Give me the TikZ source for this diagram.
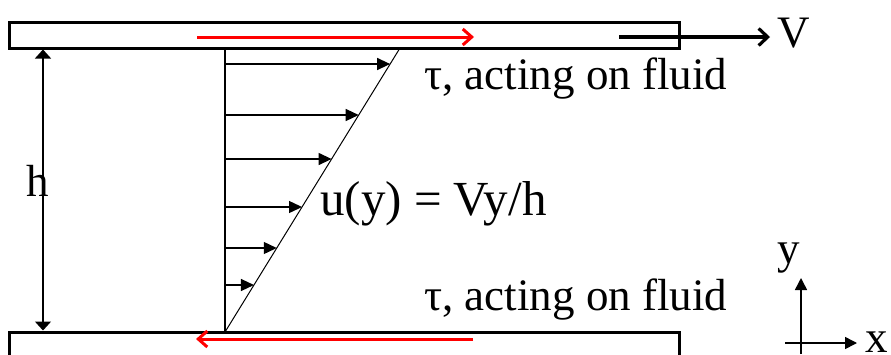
\documentclass[tikz,border=0pt]{standalone}
\usepackage{fontspec}
\setmainfont{Liberation Serif}
\usetikzlibrary{arrows.meta}
\tikzset{
  plate/.style={draw, line width=3pt},
  lbl/.style={font=\fontsize{45}{50}\selectfont, inner sep=0pt, anchor=base west},
  vel/.style={line width=1.3pt, -{Triangle[length=13pt,width=12pt]}},
  shear/.style={red, line width=3pt, -{Straight Barb[length=9pt,width=16pt]}},
  thinline/.style={line width=1.3pt},
  dimtip/.style={line width=1.3pt, {Triangle[length=9pt,width=16pt]}-{Triangle[length=9pt,width=16pt]}},
  axis/.style={line width=1.5pt, -{Triangle[length=12pt,width=12pt]}}
}
\begin{document}
\begin{tikzpicture}[x=1pt,y=-1pt]
\useasboundingbox (0,0) rectangle (891,354);
% top plate
\node[plate, minimum width=670pt, minimum height=26pt, inner sep=0pt] (top) at (344,35) {};
% bottom plate
\draw[plate] (9,360) -- (9,332) -- (679,332) -- (679,360);
\coordinate (bot) at (344,332);
% profile
\coordinate (b0) at (225,332);
\coordinate (b1) at (225,48);
\coordinate (s1) at (400,48);
\draw[thinline] (b0) -- (b1);
\draw[line width=1pt] (b0) -- (s1);
\foreach \yy in {64,115,159,207,248,285}{
  \draw[vel] (225,\yy) -- ({225+(332-\yy)/284*175},\yy);
}
% h dimension
\coordinate (h0) at (43,49.5);
\coordinate (h1) at (43,330.5);
\draw[dimtip] (h0) -- (h1);
\node[font=\fontsize{45}{50}\selectfont, inner sep=0pt] (hl) at (38,181) {h};
% V arrow
\coordinate (v0) at (619,37);
\coordinate (v1) at (770,37);
\draw[line width=3.2pt, -{Straight Barb[length=9pt,width=17pt]}] (v0) -- (v1);
\node[lbl] (vl) at (777,47) {V};
% red shear arrows
\coordinate (r0) at (197,37);
\coordinate (r1) at (474,37);
\draw[shear] (r0) -- (r1);
\coordinate (q0) at (473,339);
\coordinate (q1) at (196,339);
\draw[shear] (q0) -- (q1);
% labels
\node[lbl] (t1) at (424,89) {τ, acting on fluid};
\node[lbl] (t2) at (424,310) {τ, acting on fluid};
\node[lbl, font=\fontsize{49}{54}\selectfont] (ul) at (320,215) {u(y) = Vy/h};
% axes
\coordinate (o) at (801,354);
\coordinate (yt) at (801,278);
\coordinate (x0) at (785,343);
\coordinate (xt) at (857,343);
\draw[axis] (o) -- (yt);
\draw[axis] (x0) -- (xt);
\node[lbl] (yl) at (777,263) {y};
\node[lbl] (xl) at (865,352) {x};
\end{tikzpicture}
\end{document}
